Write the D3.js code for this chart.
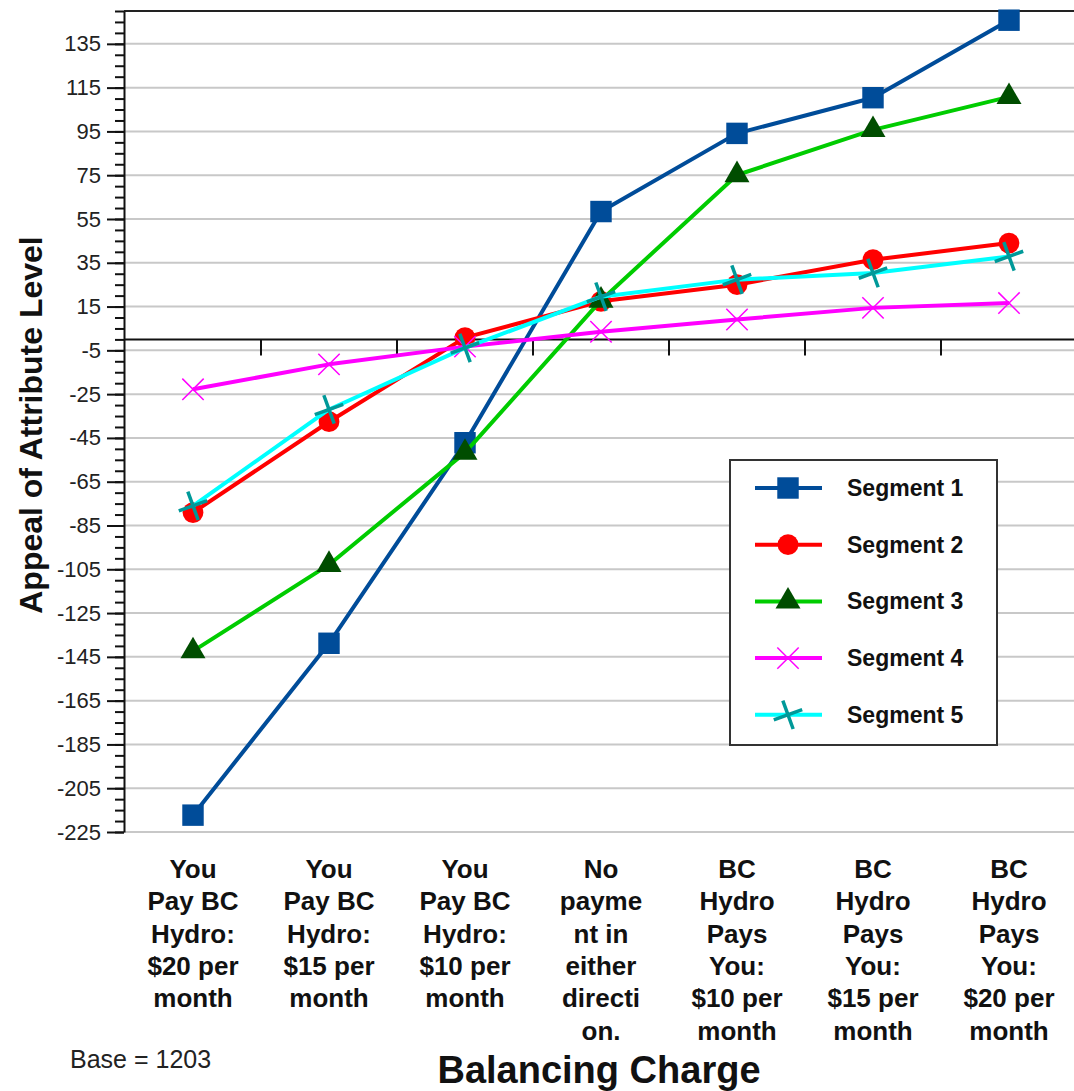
<!DOCTYPE html>
<html>
<head>
<meta charset="utf-8">
<script src="https://cdn.jsdelivr.net/npm/d3@7"></script>
<style>
  body { margin: 0; background: #fff; }
  text { font-family: Arial, "Liberation Sans", sans-serif; }
</style>
</head>
<body>
<div id="chart"></div>
<script>
// data
var categories = [
    ["You", "Pay BC", "Hydro:", "$20 per", "month"],
    ["You", "Pay BC", "Hydro:", "$15 per", "month"],
    ["You", "Pay BC", "Hydro:", "$10 per", "month"],
    ["No", "payme", "nt in", "either", "directi", "on."],
    ["BC", "Hydro", "Pays", "You:", "$10 per", "month"],
    ["BC", "Hydro", "Pays", "You:", "$15 per", "month"],
    ["BC", "Hydro", "Pays", "You:", "$20 per", "month"]
];
var segment1 = [-217.3, -138.8, -47.2, 58.4, 94.1, 110.4, 145.8];
var segment2 = [-79.1, -37.6, 0.8, 17.4, 25.0, 36.4, 44.0];
var segment3 = [-142.4, -102.9, -51.7, 17.8, 75.1, 95.7, 110.8];
var segment4 = [-22.8, -11.4, -3.3, 3.5, 9.1, 14.4, 16.6];
var segment5 = [-76.0, -32.0, -3.9, 19.5, 27.3, 30.3, 37.9];
var seriesNames = ["Segment 1", "Segment 2", "Segment 3", "Segment 4", "Segment 5"];
var yTicks = d3.range(-225, 136, 20);

var svgWidth = 1074, svgHeight = 1091;
var plotLeft = 124, plotTop = 10, plotBottom = 832, plotRight = 1077;

var svg = d3.select("#chart").append("svg")
    .attr("width", svgWidth)
    .attr("height", svgHeight);

svg.append("rect").attr("width", svgWidth).attr("height", svgHeight).attr("fill", "#fff");

// scales
var x = d3.scaleBand()
    .domain(d3.range(categories.length))
    .range([plotLeft + 1, plotRight])
    .paddingInner(0).paddingOuter(0);

var y = d3.scaleLinear()
    .domain([-225, 150])
    .range([plotBottom, plotTop + 1]);

// gridlines
svg.append("g").selectAll("line")
    .data(yTicks)
    .enter().append("line")
    .attr("x1", plotLeft).attr("x2", svgWidth)
    .attr("y1", d => y(d)).attr("y2", d => y(d))
    .attr("stroke", "#c8c8c8")
    .attr("stroke-width", 2);

// top border
svg.append("line")
    .attr("x1", plotLeft).attr("x2", svgWidth)
    .attr("y1", y(150)).attr("y2", y(150))
    .attr("stroke", "#222").attr("stroke-width", 2);

// y axis minor ticks
var yMinor = svg.append("g")
    .attr("transform", `translate(${plotLeft}, 0)`)
    .call(d3.axisLeft(y).tickValues(d3.range(-225, 151, 5)).tickSize(9).tickFormat(""));
yMinor.select(".domain").remove();
yMinor.selectAll("line").attr("stroke", "#111").attr("stroke-width", 2);

// y axis major
var yAxis = svg.append("g")
    .attr("transform", `translate(${plotLeft}, 0)`)
    .call(d3.axisLeft(y).tickValues(yTicks).tickSize(17).tickPadding(6).tickSizeOuter(0)
        .tickFormat(d => String(d)));
yAxis.select(".domain").attr("stroke", "#111").attr("stroke-width", 2);
yAxis.selectAll("line").attr("stroke", "#111").attr("stroke-width", 2);
yAxis.selectAll("text")
    .attr("font-size", "22px")
    .attr("font-family", "Arial, 'Liberation Sans', sans-serif")
    .attr("fill", "#222");

// zero line with category ticks
svg.append("line")
    .attr("x1", plotLeft).attr("x2", svgWidth)
    .attr("y1", y(0)).attr("y2", y(0))
    .attr("stroke", "#111").attr("stroke-width", 2);

svg.append("g").selectAll("line")
    .data(d3.range(1, categories.length))
    .enter().append("line")
    .attr("x1", d => x(d)).attr("x2", d => x(d))
    .attr("y1", y(0)).attr("y2", y(0) + 16)
    .attr("stroke", "#111").attr("stroke-width", 2);

// category labels
var catLabels = svg.append("g").selectAll("text")
    .data(categories)
    .enter().append("text")
    .attr("text-anchor", "middle")
    .attr("font-size", "26px")
    .attr("font-weight", "bold")
    .attr("fill", "#111");
catLabels.selectAll("tspan")
    .data((d, i) => d.map(s => ({ s: s, i: i })))
    .enter().append("tspan")
    .attr("x", d => x(d.i) + x.bandwidth() / 2)
    .attr("y", (d, j) => 878 + j * 32.3)
    .text(d => d.s);

// series
var series = [
    { name: seriesNames[0], values: segment1, line: "#004c99", mark: "#004c99", symbol: d3.symbolSquare, size: 460, fill: true },
    { name: seriesNames[1], values: segment2, line: "#ff0000", mark: "#ff0000", symbol: d3.symbolCircle, size: 340, fill: true },
    { name: seriesNames[2], values: segment3, line: "#00cc00", mark: "#004d00", symbol: d3.symbolTriangle, size: 270, fill: true },
    { name: seriesNames[3], values: segment4, line: "#ff00ff", mark: "#ff00ff", symbol: d3.symbolX, size: 300, fill: false, width: 1.5 },
    { name: seriesNames[4], values: segment5, line: "#00ffff", mark: "#009999", symbol: d3.symbolX, size: 300, fill: false, width: 3.5, rotate: 25 }
];

var line = d3.line()
    .x((d, i) => x(i) + x.bandwidth() / 2)
    .y(d => y(d));

function drawMarker(g, s) {
    var p = g.append("path")
        .attr("d", d3.symbol().type(s.symbol).size(s.size)());
    if (s.fill) {
        p.attr("fill", s.mark);
    } else {
        p.attr("fill", "none").attr("stroke", s.mark).attr("stroke-width", s.width);
    }
    if (s.rotate) p.attr("transform", `rotate(${s.rotate})`);
}

series.forEach(function(s) {
    var g = svg.append("g");
    g.append("path")
        .datum(s.values)
        .attr("d", line)
        .attr("fill", "none")
        .attr("stroke", s.line)
        .attr("stroke-width", 4)
        .attr("stroke-linejoin", "round");
    g.selectAll("g.mk")
        .data(s.values)
        .enter().append("g")
        .attr("class", "mk")
        .attr("transform", (d, i) => `translate(${x(i) + x.bandwidth() / 2}, ${y(d)})`)
        .each(function() { drawMarker(d3.select(this), s); });
});

// legend
var legend = svg.append("g").attr("transform", "translate(730, 460)");
legend.append("rect")
    .attr("width", 267).attr("height", 285)
    .attr("fill", "#fff")
    .attr("stroke", "#333").attr("stroke-width", 2);

series.forEach(function(s, i) {
    var row = legend.append("g").attr("transform", `translate(0, ${28 + i * 56.7})`);
    row.append("line")
        .attr("x1", 25).attr("x2", 92)
        .attr("stroke", s.line).attr("stroke-width", 4);
    var m = row.append("g").attr("transform", "translate(58, 0)");
    drawMarker(m, s);
    row.append("text")
        .attr("x", 117).attr("y", 8)
        .attr("font-size", "23px")
        .attr("font-weight", "bold")
        .attr("fill", "#111")
        .text(s.name);
});

// axis titles
svg.append("text")
    .attr("transform", `translate(42, 425) rotate(-90)`)
    .attr("text-anchor", "middle")
    .attr("font-size", "32px")
    .attr("font-weight", "bold")
    .attr("fill", "#111")
    .text("Appeal of Attribute Level");

svg.append("text")
    .attr("x", 599).attr("y", 1083)
    .attr("text-anchor", "middle")
    .attr("font-size", "38px")
    .attr("font-weight", "bold")
    .attr("fill", "#111")
    .text("Balancing Charge");

svg.append("text")
    .attr("x", 70).attr("y", 1068)
    .attr("font-size", "25px")
    .attr("fill", "#222")
    .text("Base = 1203");
</script>
</body>
</html>
